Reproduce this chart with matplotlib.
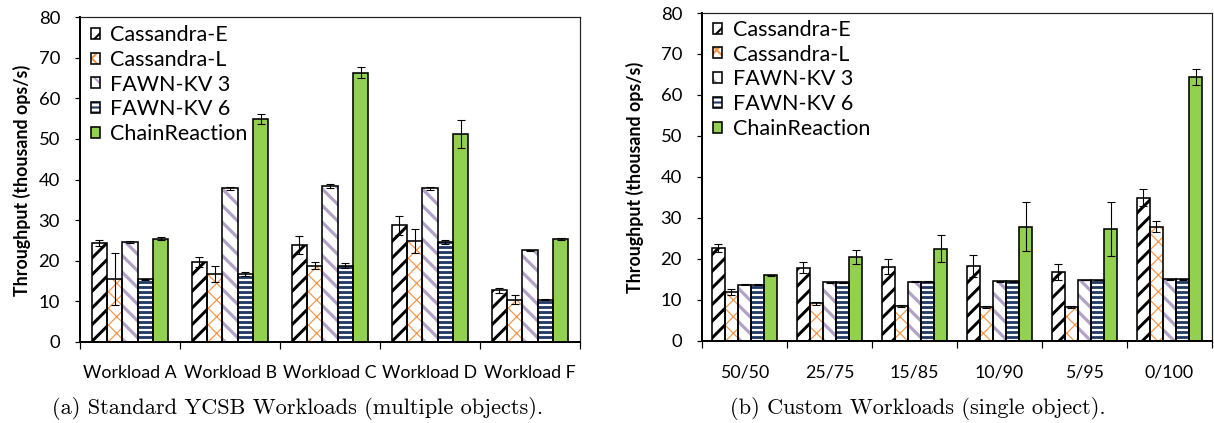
import matplotlib
matplotlib.use('Agg')
import matplotlib.pyplot as plt
import numpy as np
from matplotlib.patches import Patch
from matplotlib.ticker import FixedLocator, NullFormatter

DPI = 150
W, H = 1214, 423


def pt(px):
    return px * 72.0 / DPI


# ---------------- data ----------------
series = ['Cassandra-E', 'Cassandra-L', 'FAWN-KV 3', 'FAWN-KV 6', 'ChainReaction']

cats_a = ['Workload A', 'Workload B', 'Workload C', 'Workload D', 'Workload F']
cass_e_a = [24.4, 19.7, 23.8, 28.7, 12.7]
cass_e_a_err = [0.8, 1.3, 2.2, 2.3, 0.7]
cass_l_a = [15.4, 16.8, 18.8, 24.8, 10.4]
cass_l_a_err = [6.4, 2.0, 0.9, 3.0, 1.1]
fawn3_a = [24.6, 37.8, 38.4, 37.8, 22.6]
fawn3_a_err = [0.2, 0.4, 0.5, 0.3, 0.1]
fawn6_a = [15.4, 16.8, 18.8, 24.7, 10.4]
fawn6_a_err = [0.1, 0.5, 0.6, 0.5, 0.1]
chain_a = [25.4, 54.9, 66.3, 51.2, 25.4]
chain_a_err = [0.4, 1.2, 1.3, 3.5, 0.2]

cats_b = ['50/50', '25/75', '15/85', '10/90', '5/95', '0/100']
cass_e_b = [22.6, 17.8, 18.0, 18.2, 16.7, 34.9]
cass_e_b_err = [1.0, 1.3, 1.8, 2.7, 1.9, 2.1]
cass_l_b = [11.9, 9.1, 8.5, 8.2, 8.2, 27.8]
cass_l_b_err = [0.7, 0.4, 0.2, 0.3, 0.3, 1.4]
fawn3_b = [13.6, 14.2, 14.4, 14.5, 14.8, 15.0]
fawn3_b_err = [0.1, 0.1, 0.1, 0.1, 0.1, 0.1]
fawn6_b = [13.6, 14.2, 14.4, 14.5, 14.8, 15.0]
fawn6_b_err = [0.1, 0.1, 0.1, 0.1, 0.1, 0.1]
chain_b = [15.9, 20.5, 22.4, 27.8, 27.3, 64.3]
chain_b_err = [0.2, 1.7, 3.3, 6.0, 6.6, 1.9]

yticks = [0, 10, 20, 30, 40, 50, 60, 70, 80]
ylabel = 'Throughput (thousand ops/s)'
caption_a = '(a) Standard YCSB Workloads (multiple objects).'
caption_b = '(b) Custom Workloads (single object).'

# ---------------- style ----------------
styles = [
    dict(hatch='///', hcolor='black', face='white', hlw=pt(3.0)),
    dict(hatch='xxx', hcolor='#F79646', face='white', hlw=pt(1.2)),
    dict(hatch='\\\\\\', hcolor='#B3A2C7', face='white', hlw=pt(3.2)),
    dict(hatch='-----', hcolor='#1F3864', face='white', hlw=pt(2.8)),
    dict(hatch=None, hcolor='#92D050', face='#92D050', hlw=pt(1.0)),
]

SANS = ['Lato', 'DejaVu Sans']
FS_TICK = pt(18.5)
FS_XTICK = pt(17.8)
FS_LEG = pt(21.5)
FS_YLAB = pt(17.8)
FS_CAP = pt(22.3)

plt.rcParams['font.family'] = SANS

fig = plt.figure(figsize=(W / DPI, H / DPI), dpi=DPI)


def make_bar(ax, x, vals, errs, st, bw):
    with plt.rc_context({'hatch.linewidth': st['hlw']}):
        if st['hatch']:
            b = ax.bar(x, vals, width=bw, color=st['face'], edgecolor=st['hcolor'],
                       linewidth=0, hatch=st['hatch'], zorder=2)
            for r in b:
                if hasattr(r, 'set_hatch_linewidth'):
                    r.set_hatch_linewidth(st['hlw'])
        else:
            ax.bar(x, vals, width=bw, color=st['face'], linewidth=0, zorder=2)
    ax.bar(x, vals, width=bw, fill=False, edgecolor='black', linewidth=pt(1.6),
           yerr=errs, zorder=3,
           error_kw=dict(ecolor='black', elinewidth=pt(1.1), capsize=pt(4.2),
                         capthick=pt(1.1), zorder=4))


def draw_panel(rect, cats, data, leg_anchor):
    ax = fig.add_axes(rect)
    n = len(cats)
    x = np.arange(n)
    bw = 0.153
    for i, (vals, errs) in enumerate(data):
        make_bar(ax, x + (i - 2) * bw, vals, errs, styles[i], bw)
    ax.set_xlim(-0.5, n - 0.5)
    ax.set_ylim(0, 80)
    ax.set_yticks(yticks)
    ax.set_yticklabels([str(v) for v in yticks], fontsize=FS_TICK)
    ax.set_xticks(x)
    ax.set_xticklabels(cats, fontsize=FS_XTICK)
    ax.xaxis.set_minor_locator(FixedLocator(np.arange(n + 1) - 0.5))
    ax.xaxis.set_minor_formatter(NullFormatter())
    ax.tick_params(axis='x', which='major', length=0, pad=pt(23.5))
    ax.tick_params(axis='x', which='minor', length=pt(7), width=pt(1.2), direction='out')
    ax.tick_params(axis='y', length=pt(5), width=pt(1.2), pad=pt(15), direction='out')
    for s in ['left', 'bottom']:
        ax.spines[s].set_linewidth(pt(2))
        ax.spines[s].set_color('black')
    for s in ['top', 'right']:
        ax.spines[s].set_linewidth(pt(1.2))
        ax.spines[s].set_color('#222222')
    handles = []
    for st in styles:
        p1 = Patch(facecolor=st['face'], edgecolor=st['hcolor'], hatch=st['hatch'], linewidth=0)
        p2 = Patch(fill=False, edgecolor='black', linewidth=pt(1.6))
        handles.append((p1, p2))
    ax.legend(handles, series, loc='upper left', bbox_to_anchor=leg_anchor,
              frameon=False, fontsize=FS_LEG, handlelength=0.4, handleheight=0.4,
              handletextpad=0.5, labelspacing=0.22, borderaxespad=0, borderpad=0)
    return ax


def rect_px(x0, x1, ytop, ybot):
    return [x0 / W, (H - ybot) / H, (x1 - x0) / W, (ybot - ytop) / H]


data_a = [(cass_e_a, cass_e_a_err), (cass_l_a, cass_l_a_err), (fawn3_a, fawn3_a_err),
          (fawn6_a, fawn6_a_err), (chain_a, chain_a_err)]
data_b = [(cass_e_b, cass_e_b_err), (cass_l_b, cass_l_b_err), (fawn3_b, fawn3_b_err),
          (fawn6_b, fawn6_b_err), (chain_b, chain_b_err)]

ax1 = draw_panel(rect_px(80, 580, 17, 342), cats_a, data_a, (0.022, 0.975))
ax2 = draw_panel(rect_px(702, 1212, 13, 340.5), cats_b, data_b, (0.022, 0.979))

fig.text(22 / W, 1 - 180 / H, ylabel, rotation=90, ha='center', va='center',
         fontsize=FS_YLAB, fontweight='bold')
fig.text(635 / W, 1 - 177 / H, ylabel, rotation=90, ha='center', va='center',
         fontsize=FS_YLAB, fontweight='bold')

fig.text(298 / W, (H - 414) / H, caption_a, ha='center', va='baseline',
         fontsize=FS_CAP, family=['cmr10', 'DejaVu Serif'])
fig.text(730 / W, (H - 414) / H, caption_b, ha='left', va='baseline',
         fontsize=FS_CAP, family=['cmr10', 'DejaVu Serif'])

fig.savefig('out.png', dpi=DPI)
